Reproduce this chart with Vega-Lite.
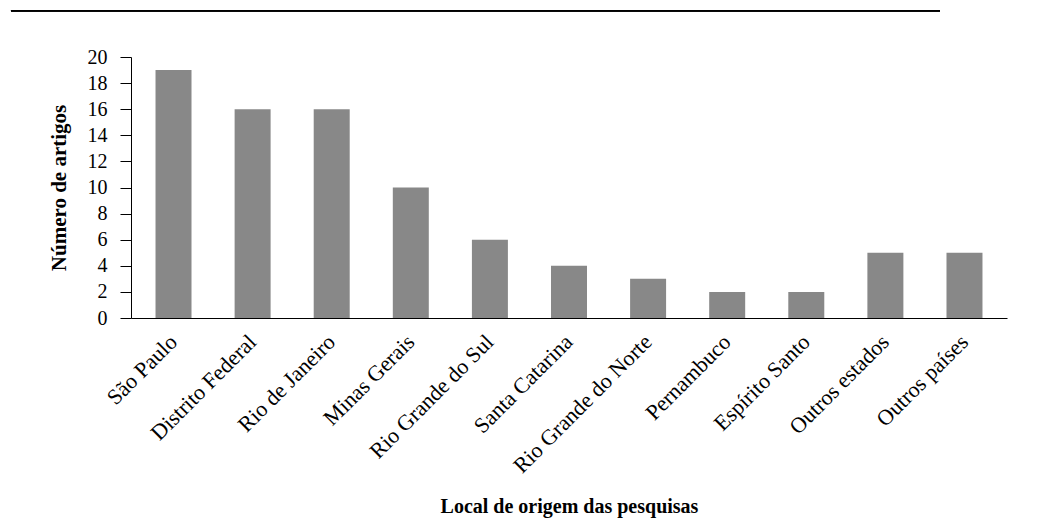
{
  "$schema": "https://vega.github.io/schema/vega-lite/v6.json",
  "autosize": {"type": "none"},
  "padding": {"left": 131, "top": 57, "right": 33, "bottom": 204},
  "width": 876,
  "height": 261,
  "background": "white",
  "config": {
    "view": {"stroke": null},
    "font": "Liberation Serif",
    "axis": {"labelFont": "Liberation Serif", "titleFont": "Liberation Serif", "labelColor": "#000", "titleColor": "#000", "domainColor": "#000", "tickColor": "#000", "grid": false},
    "axisY": {"labelOverlap": false, "labelFontSize": 20, "labelPadding": 13, "tickSize": 11, "domainWidth": 1, "tickWidth": 1, "titleFontSize": 21, "titleFontWeight": "bold", "titlePadding": 18}
  },
  "data": {"values": [
    {"local": "São Paulo", "artigos": 19},
    {"local": "Distrito Federal", "artigos": 16},
    {"local": "Rio de Janeiro", "artigos": 16},
    {"local": "Minas Gerais", "artigos": 10},
    {"local": "Rio Grande do Sul", "artigos": 6},
    {"local": "Santa Catarina", "artigos": 4},
    {"local": "Rio Grande do Norte", "artigos": 3},
    {"local": "Pernambuco", "artigos": 2},
    {"local": "Espírito Santo", "artigos": 2},
    {"local": "Outros estados", "artigos": 5},
    {"local": "Outros países", "artigos": 5}
  ]},
  "layer": [
    {
      "mark": {"type": "bar", "color": "#888888"},
      "encoding": {
        "x": {
          "field": "local", "type": "nominal", "sort": null,
          "scale": {"paddingInner": 0.545, "paddingOuter": 0.31},
          "axis": {
            "title": "Local de origem das pesquisas",
            "titleFontSize": 20, "titleFontWeight": "bold", "titleY": 194, "titleBaseline": "alphabetic",
            "labelAngle": -45, "labelAlign": "right", "labelBaseline": "middle",
            "labelFontSize": 22, "labelPadding": 20, "ticks": false, "domainWidth": 1,
            "labelLimit": 400, "labelOverlap": false
          }
        },
        "y": {
          "field": "artigos", "type": "quantitative",
          "scale": {"domain": [0, 20], "nice": false},
          "axis": {"title": "Número de artigos", "values": [0, 2, 4, 6, 8, 10, 12, 14, 16, 18, 20]}
        }
      }
    },
    {
      "mark": {"type": "rule", "color": "#000", "strokeWidth": 1.2, "clip": false},
      "encoding": {
        "x": {"datum": -0.137, "type": "quantitative", "scale": {"domain": [0, 1], "nice": false, "zero": false}, "axis": null},
        "x2": {"datum": 0.9235},
        "y": {"datum": 23.56, "type": "quantitative", "axis": {"title": "Número de artigos", "values": [0, 2, 4, 6, 8, 10, 12, 14, 16, 18, 20]}}
      }
    }
  ],
  "resolve": {"scale": {"x": "independent"}, "axis": {"x": "independent"}}
}
